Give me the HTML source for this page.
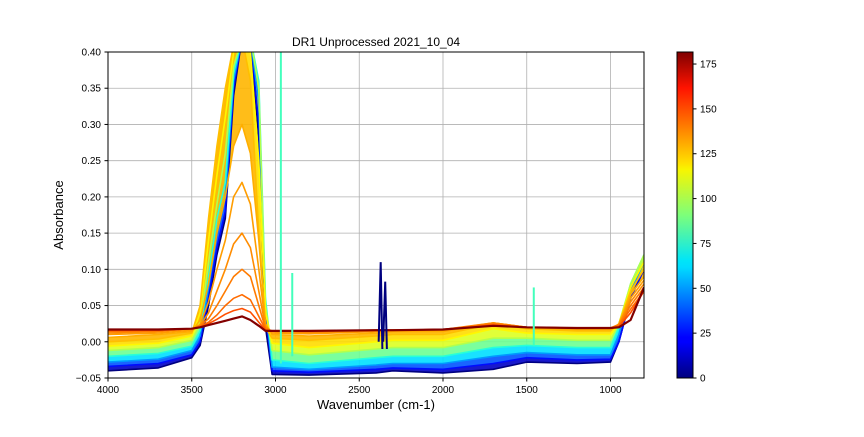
<!DOCTYPE html>
<html><head><meta charset="utf-8"><style>
body{margin:0;background:#fff;}
svg{font-family:"Liberation Sans","DejaVu Sans",sans-serif;}
</style></head><body>
<svg id="chart" width="864" height="432" viewBox="0 0 864 432">
<defs>
<clipPath id="pc"><rect x="108" y="52" width="536" height="326"/></clipPath>
<linearGradient id="jetg" x1="0" y1="1" x2="0" y2="0">
<stop offset="0" stop-color="#00007f"/><stop offset="0.11" stop-color="#0000ff"/>
<stop offset="0.125" stop-color="#0000ff"/><stop offset="0.34" stop-color="#00dcff"/>
<stop offset="0.36" stop-color="#00e5f8"/><stop offset="0.5" stop-color="#7dff7a"/>
<stop offset="0.64" stop-color="#f8f500"/><stop offset="0.66" stop-color="#ffe000"/>
<stop offset="0.89" stop-color="#ff1300"/><stop offset="1" stop-color="#7f0000"/>
</linearGradient>
</defs>
<text x="376" y="46" text-anchor="middle" font-size="12">DR1 Unprocessed 2021_10_04</text>
<g id="grid"></g>
<g id="plot" clip-path="url(#pc)"></g>
<rect x="108" y="52" width="536" height="326" fill="none" stroke="#000" stroke-width="1"/>
<g id="xt"></g>
<g id="yt"></g>
<text x="376" y="409" text-anchor="middle" font-size="13">Wavenumber (cm-1)</text>
<text x="0" y="0" transform="translate(63,215) rotate(-90)" text-anchor="middle" font-size="13">Absorbance</text>
<rect x="677" y="52" width="16" height="326" fill="url(#jetg)" stroke="#000" stroke-width="1"/>
<g id="cb"></g>
</svg>
<script>
const wn=[4000,3700,3500,3450,3400,3350,3300,3250,3200,3150,3100,3060,3020,2800,2400,2300,2000,1700,1500,1200,1000,950,880,800];
const curveIdx=[0,25,50,75,100,115,125,128,131,134,137,140,145,181];
const c0=[-0.040,-0.036,-0.022,-0.005,0.05,0.12,0.17,0.34,0.42,0.42,0.28,0.02,-0.045,-0.046,-0.043,-0.040,-0.043,-0.038,-0.028,-0.030,-0.028,0.00,0.06,0.10];
const c25=[-0.034,-0.030,-0.018,0.00,0.06,0.13,0.18,0.35,0.42,0.42,0.30,0.04,-0.04,-0.042,-0.038,-0.036,-0.038,-0.030,-0.022,-0.025,-0.024,0.00,0.06,0.10];
const c50=[-0.028,-0.024,-0.012,0.008,0.075,0.15,0.20,0.36,0.42,0.42,0.33,0.05,-0.035,-0.038,-0.032,-0.030,-0.030,-0.020,-0.015,-0.018,-0.018,0.01,0.07,0.11];
const c75=[-0.020,-0.016,-0.006,0.015,0.09,0.17,0.22,0.37,0.42,0.42,0.36,0.06,-0.025,-0.030,-0.022,-0.020,-0.020,-0.008,-0.005,-0.008,-0.008,0.02,0.08,0.12];
const c100=[-0.012,-0.008,0.002,0.025,0.11,0.19,0.26,0.38,0.42,0.42,0.35,0.05,-0.012,-0.018,-0.010,-0.008,-0.008,0.005,0.005,0.002,0.002,0.025,0.08,0.12];
const c115=[-0.006,-0.002,0.008,0.04,0.14,0.23,0.31,0.40,0.42,0.40,0.25,0.04,-0.002,-0.008,0.000,0.002,0.002,0.018,0.012,0.010,0.010,0.025,0.075,0.11];
const c125=[0.000,0.004,0.012,0.05,0.17,0.27,0.35,0.41,0.42,0.36,0.15,0.02,0.005,0.002,0.008,0.010,0.010,0.025,0.018,0.015,0.015,0.025,0.07,0.10];
const c132=[0.006,0.010,0.014,0.03,0.08,0.15,0.20,0.27,0.30,0.26,0.14,0.025,0.010,0.008,0.012,0.014,0.014,0.026,0.020,0.017,0.017,0.024,0.065,0.09];
const c138=[0.010,0.012,0.016,0.024,0.055,0.10,0.14,0.20,0.22,0.19,0.10,0.022,0.012,0.011,0.014,0.015,0.016,0.026,0.020,0.018,0.018,0.024,0.06,0.085];
const c145=[0.012,0.014,0.018,0.022,0.04,0.07,0.10,0.135,0.15,0.13,0.07,0.02,0.014,0.013,0.015,0.016,0.017,0.026,0.020,0.019,0.019,0.024,0.055,0.08];
const c152=[0.014,0.015,0.018,0.022,0.032,0.05,0.07,0.09,0.10,0.09,0.05,0.018,0.015,0.014,0.016,0.016,0.017,0.025,0.020,0.019,0.019,0.023,0.05,0.075];
const c160=[0.015,0.016,0.018,0.021,0.027,0.037,0.05,0.06,0.065,0.058,0.035,0.017,0.015,0.015,0.016,0.016,0.017,0.024,0.020,0.019,0.019,0.022,0.045,0.07];
const c168=[0.016,0.016,0.018,0.020,0.025,0.031,0.038,0.043,0.046,0.041,0.027,0.016,0.015,0.015,0.016,0.016,0.017,0.023,0.020,0.019,0.019,0.021,0.04,0.07];
const c181=[0.017,0.017,0.018,0.020,0.023,0.026,0.029,0.032,0.035,0.030,0.022,0.015,0.015,0.015,0.016,0.016,0.017,0.022,0.020,0.019,0.019,0.020,0.03,0.075];
const spikeWn=[2968,2900,1458];
const spikeVal=[0.40,0.095,0.075];
const spikeBase=[-0.03,-0.02,-0.005];
const co2Wn=[2372,2345];
const co2Val=[0.11,0.083];
const xTicks=[4000,3500,3000,2500,2000,1500,1000];
const yTicks=[-0.05,0,0.05,0.10,0.15,0.20,0.25,0.30,0.35,0.40];
const yTickLabels=["−0.05","0.00","0.05","0.10","0.15","0.20","0.25","0.30","0.35","0.40"];
const cbTicks=[0,25,50,75,100,125,150,175];

const curves=[c0,c25,c50,c75,c100,c115,c125,c132,c138,c145,c152,c160,c168,c181];
const NS='http://www.w3.org/2000/svg';
const X=w=>108+(4000-w)*(536/3200);
const Y=a=>378-(a+0.05)*(326/0.45);
const CB=v=>378-v*(326/181.7);
function jet(t){t=Math.max(0,Math.min(1,t));
 const r=Math.max(0,Math.min(1,1.5-Math.abs(4*t-3))),g=Math.max(0,Math.min(1,1.5-Math.abs(4*t-2))),b=Math.max(0,Math.min(1,1.5-Math.abs(4*t-1)));
 return `rgb(${Math.round(r*255)},${Math.round(g*255)},${Math.round(b*255)})`;}
function mk(tag,attrs,parent){const e=document.createElementNS(NS,tag);for(const k in attrs)e.setAttribute(k,attrs[k]);parent.appendChild(e);return e;}
const grid=document.getElementById('grid'),plot=document.getElementById('plot'),xt=document.getElementById('xt'),yt=document.getElementById('yt'),cb=document.getElementById('cb');
xTicks.forEach(v=>{
 const l=mk('line',{x1:X(v),x2:X(v),y1:52,y2:378,stroke:'#b0b0b0','stroke-width':0.8},grid);
 
 
 const t=mk('line',{x1:X(v),x2:X(v),y1:378,y2:381.5,stroke:'#000'},xt);
 
 
 const s=mk('text',{x:X(v),y:393,'text-anchor':'middle','font-size':10},xt);s.textContent=v;
 
 
});
yTicks.forEach((v,i)=>{
 const l=mk('line',{x1:108,x2:644,y1:Y(v),y2:Y(v),stroke:'#b0b0b0','stroke-width':0.8},grid);
 
 
 const t=mk('line',{x1:104.5,x2:108,y1:Y(v),y2:Y(v),stroke:'#000'},yt);
 
 
 const s=mk('text',{x:101,y:Y(v)+3.5,'text-anchor':'end','font-size':10},yt);s.textContent=yTickLabels[i];
 
 
});
cbTicks.forEach(v=>{
 const t=mk('line',{x1:693,x2:696.5,y1:CB(v),y2:CB(v),stroke:'#000'},cb);
 
 
 const s=mk('text',{x:700,y:CB(v)+3.5,'font-size':10},cb);s.textContent=v;
 
 
});
function pts(arr){return arr.map((a,i)=>X(wn[i]).toFixed(1)+','+Y(a).toFixed(1));}
for(let k=0;k<7;k++){
 const lo=curves[k],hi=curves[k+1];
 const p=pts(lo).concat(pts(hi).reverse());
 const b=mk('polygon',{points:p.join(' '),fill:jet((curveIdx[k]+curveIdx[k+1])/2/181.7),opacity:0.9},plot);
 
 
}
curves.forEach((c,k)=>{
 const p=mk('polyline',{points:pts(c).join(' '),fill:'none',stroke:jet(curveIdx[k]/181.7),'stroke-width':k==curves.length-1?2.2:1.6,'stroke-linejoin':'round'},plot);
 
 
});
spikeWn.forEach((w,i)=>{
 const l=mk('line',{x1:X(w),x2:X(w),y1:Y(spikeBase[i]),y2:Y(spikeVal[i]),stroke:jet(80/181.7),'stroke-width':2},plot);
 
 
});
co2Wn.forEach((w,i)=>{
 const p=mk('polyline',{points:`${X(w+12)},${Y(0.0)} ${X(w)},${Y(co2Val[i])} ${X(w-10)},${Y(-0.01)}`,fill:'none',stroke:'#00007f','stroke-width':2},plot);
 
 
});
</script>
</body></html>
